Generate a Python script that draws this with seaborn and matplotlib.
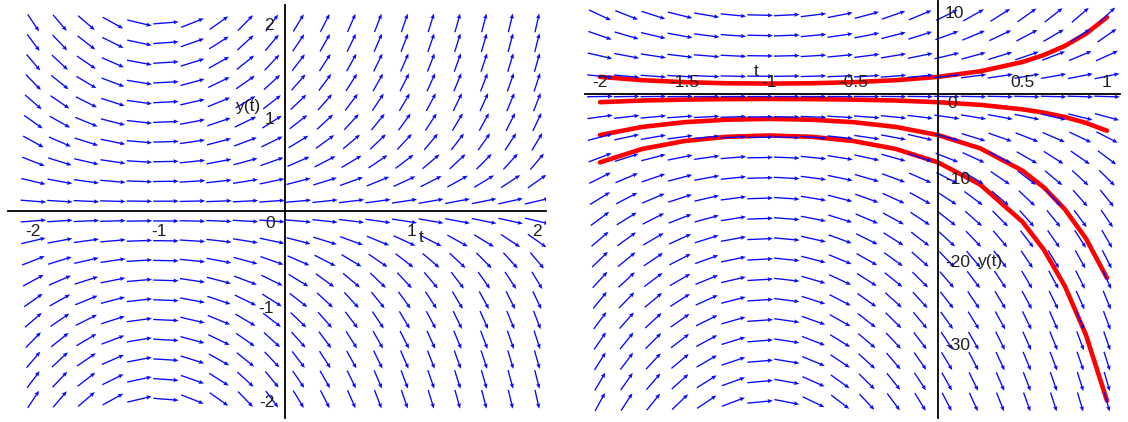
import numpy as np
import pandas as pd
import matplotlib
matplotlib.use("Agg")
import matplotlib.pyplot as plt
import seaborn as sns

sns.set_style("white")
plt.rcParams["font.family"] = ["Liberation Sans", "DejaVu Sans"]

# ---- data -------------------------------------------------------------
# direction field of dy/dt = (t + shift) * y
shift = 1.0
left_t_grid = np.linspace(-2, 2, 20)
left_y_grid = np.linspace(-2, 2, 20)
right_t_grid = np.linspace(-2, 1, 20)
right_y_grid = np.linspace(-37.1, 9.5, 20)

# red solution curves
curve_t = [-2, -1.75, -1.5, -1.25, -1, -0.75, -0.5, -0.25, 0, 0.25, 0.5, 0.625, 0.75, 0.875, 1]
curve_a = [2.06, 1.66, 1.42, 1.29, 1.25, 1.29, 1.42, 1.66, 2.06, 2.73, 3.85, 4.68, 5.78, 7.25, 9.24]
curve_b = [-0.99, -0.79, -0.68, -0.62, -0.60, -0.62, -0.68, -0.79, -0.99, -1.31, -1.85, -2.25, -2.77, -3.48, -4.43]
curve_c = [-4.95, -3.97, -3.40, -3.10, -3.00, -3.10, -3.40, -3.97, -4.95, -6.55, -9.24, -11.23, -13.87, -17.40, -22.17]
curve_d = [-8.24, -6.62, -5.67, -5.16, -5.00, -5.16, -5.67, -6.62, -8.24, -10.92, -15.40, -18.72, -23.12, -29.00, -36.95]

left_xtick_labels = [-2, -1, 1, 2]
left_ytick_labels = [2, 1, -1, -2]
right_xtick_labels = [-2, -1.5, -1, -0.5, 0.5, 1]
right_ytick_labels = [10, -10, -20, -30]

# ---- figure -----------------------------------------------------------
W, H = 1128, 422
fig = plt.figure(figsize=(W / 100, H / 100), dpi=100)


def px_axes(x0, x1, y0, y1):
    return fig.add_axes([x0 / W, 1 - y1 / H, (x1 - x0) / W, (y1 - y0) / H])


axL = px_axes(8.2, 545.9, 5.0, 418.1)
axL.set_xlim(-2.18, 2.07)
axL.set_ylim(-2.17, 2.19)

axR = px_axes(584.8, 1120.0, 1.0, 417.7)
axR.set_xlim(-2.09, 1.077)
axR.set_ylim(-39.0, 11.2)


def draw_field(ax, tg, yg):
    dxc = tg[1] - tg[0]
    dyc = yg[1] - yg[0]
    T, Y = np.meshgrid(tg, yg)
    S = (T + shift) * Y
    a = np.ones_like(S) / dxc
    b = S / dyc
    n = np.hypot(a, b)
    U = 0.96 * dxc * a / n
    V = 0.96 * dyc * b / n
    ax.quiver(T, Y, U, V, angles="xy", scale_units="xy", scale=1,
              pivot="middle", color="#0a0aff", units="dots", width=1.35,
              headwidth=3.2, headlength=3.8, headaxislength=3.4, zorder=3)


draw_field(axL, left_t_grid, left_y_grid)
draw_field(axR, right_t_grid, right_y_grid)

for ys in (curve_a, curve_b, curve_c, curve_d):
    df = pd.DataFrame({"t": curve_t, "y": ys})
    sns.lineplot(data=df, x="t", y="y", ax=axR, color="#ff0000", linewidth=3.3,
                 sort=False, estimator=None, zorder=2)

for ax in (axL, axR):
    ax.set_facecolor("white")
    ax.spines[["top", "right"]].set_visible(False)
    ax.spines["left"].set_position(("data", 0))
    ax.spines["bottom"].set_position(("data", 0))
    for s in ("left", "bottom"):
        ax.spines[s].set_linewidth(1.3)
        ax.spines[s].set_color("black")
        ax.spines[s].set_zorder(4)
    ax.set_xlabel("")
    ax.set_ylabel("")
    ax.patch.set_visible(False)

axL.set_xticks(np.arange(-2.2, 2.01, 0.2))
axL.set_yticks(np.arange(-2.2, 2.19, 0.2))
axL.tick_params(axis="both", labelbottom=False, labelleft=False, length=3,
                width=1, direction="out", color="black")

axR.set_xticks(np.arange(-2.0, 1.06, 0.1))
axR.set_yticks(np.arange(-38, 11, 2))
axR.tick_params(axis="x", labelbottom=False, length=3, width=1, direction="out", color="black")
axR.tick_params(axis="y", labelleft=False, length=3, width=1, direction="in", color="black")

fs = 12.5
tc = "#202020"


def lab(ax, s, xy, off, ha="center", va="baseline"):
    ax.annotate(s, xy=xy, xytext=off, textcoords="offset pixels",
                ha=ha, va=va, fontsize=fs, color=tc, zorder=5)


def fmt(v):
    return f"{v:g}"


# left labels
for v in left_xtick_labels:
    lab(axL, fmt(v), (v, 0), (0, -25))
lab(axL, "0", (0, 0), (-15, -17))
for v in left_ytick_labels:
    lab(axL, fmt(v), (0, v), (-11, -7.5), ha="right")
lab(axL, "y(t)", (0, 1), (-24, 10), ha="right", va="center")
lab(axL, "t", (1, 0), (10, -26.5), va="center")

# right labels
for v in right_xtick_labels:
    lab(axR, fmt(v), (v, 0), (0, 7))
lab(axR, "0", (0, 0), (9, -14), ha="left")
for v in right_ytick_labels:
    lab(axR, fmt(v), (0, v), (7, -7.5), ha="left")
lab(axR, "y(t)", (0, -20), (40, -2), ha="left", va="center")
lab(axR, "t", (-1, 0), (-13, 22), va="center")

fig.savefig("out.png", dpi=100, facecolor="white")
